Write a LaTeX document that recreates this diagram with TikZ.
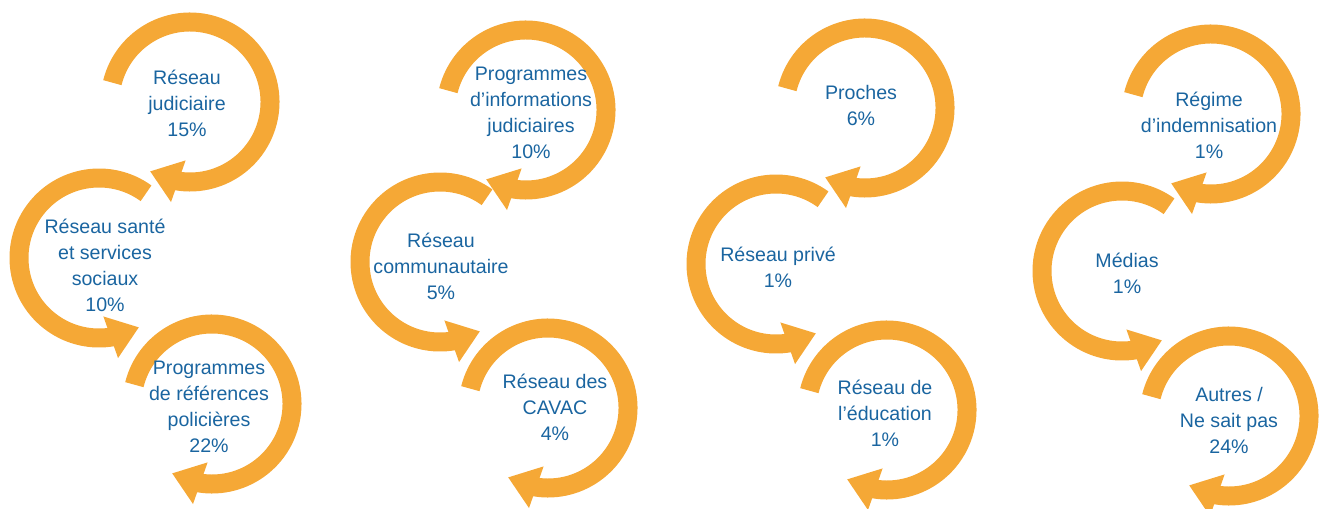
\documentclass[tikz,border=0pt]{standalone}
\usepackage{fontspec}
\setmainfont{Liberation Sans}
\usetikzlibrary{arrows.meta,bending}

\definecolor{ringorange}{RGB}{245,168,54}
\definecolor{textblue}{RGB}{26,101,160}

\tikzset{every picture/.style={line width=0.75pt}}
\tikzset{
  ring/.style={draw=ringorange, line width=14.25pt, -{Triangle[width=31.5pt,length=22.5pt]}},
  ringtext/.style={text=textblue, align=center, inner sep=0.75pt, font=\fontsize{14.7}{19.5}\selectfont}
}

\begin{document}
\begin{tikzpicture}[x=0.75pt,y=0.75pt,yscale=-1,xscale=1]
\useasboundingbox (0,0) rectangle (1319,508);

% ring centres
\coordinate (rjudic) at (190,102);
\coordinate (rsante) at (99,258);
\coordinate (rpolice) at (212,404);
\coordinate (rinfo) at (526,110);
\coordinate (rcommu) at (440,262);
\coordinate (rcavac) at (548,408);
\coordinate (rproch) at (865,108);
\coordinate (rprive) at (776,264);
\coordinate (reduc) at (887,410);
\coordinate (rregim) at (1211,114);
\coordinate (rmedia) at (1122,271);
\coordinate (rautre) at (1229,416);

%Shape: Circular Arrow (clockwise)
\draw [ring] ([shift={(-166:80)}]rjudic) arc [start angle=-166, end angle=120, radius=80];
%Shape: Circular Arrow (counter-clockwise)
\draw [ring] ([shift={(-54:80)}]rsante) arc [start angle=-54, end angle=-300, radius=80];
%Shape: Circular Arrow (clockwise)
\draw [ring] ([shift={(-166:80)}]rpolice) arc [start angle=-166, end angle=120, radius=80];

%Shape: Circular Arrow (clockwise)
\draw [ring] ([shift={(-166:80)}]rinfo) arc [start angle=-166, end angle=120, radius=80];
%Shape: Circular Arrow (counter-clockwise)
\draw [ring] ([shift={(-54:80)}]rcommu) arc [start angle=-54, end angle=-300, radius=80];
%Shape: Circular Arrow (clockwise)
\draw [ring] ([shift={(-166:80)}]rcavac) arc [start angle=-166, end angle=120, radius=80];

%Shape: Circular Arrow (clockwise)
\draw [ring] ([shift={(-166:80)}]rproch) arc [start angle=-166, end angle=120, radius=80];
%Shape: Circular Arrow (counter-clockwise)
\draw [ring] ([shift={(-54:80)}]rprive) arc [start angle=-54, end angle=-300, radius=80];
%Shape: Circular Arrow (clockwise)
\draw [ring] ([shift={(-166:80)}]reduc) arc [start angle=-166, end angle=120, radius=80];

%Shape: Circular Arrow (clockwise)
\draw [ring] ([shift={(-166:80)}]rregim) arc [start angle=-166, end angle=120, radius=80];
%Shape: Circular Arrow (counter-clockwise)
\draw [ring] ([shift={(-54:80)}]rmedia) arc [start angle=-54, end angle=-300, radius=80];
%Shape: Circular Arrow (clockwise)
\draw [ring] ([shift={(-166:80)}]rautre) arc [start angle=-166, end angle=120, radius=80];

% Text Node
\node [ringtext] (judic) at (187,103) {Réseau\\judiciaire\\15\%};
% Text Node
\node [ringtext] (sante) at (105,265) {Réseau santé\\et services\\sociaux\\10\%};
% Text Node
\node [ringtext] (police) at (209,407) {Programmes\\de références\\policières\\22\%};
% Text Node
\node [ringtext] (info) at (531,113) {Programmes\\d’informations\\judiciaires\\10\%};
% Text Node
\node [ringtext] (commu) at (441,266) {Réseau\\communautaire\\5\%};
% Text Node
\node [ringtext] (cavac) at (555,407) {Réseau des\\CAVAC\\4\%};
% Text Node
\node [ringtext] (proch) at (861,105) {Proches\\6\%};
% Text Node
\node [ringtext] (prive) at (778,267) {Réseau privé\\1\%};
% Text Node
\node [ringtext] (educ) at (885,413) {Réseau de\\l’éducation\\1\%};
% Text Node
\node [ringtext] (regim) at (1209,125) {Régime\\d’indemnisation\\1\%};
% Text Node
\node [ringtext] (media) at (1127,273) {Médias\\1\%};
% Text Node
\node [ringtext] (autre) at (1229,420) {Autres /\\Ne sait pas\\24\%};

\end{tikzpicture}
\end{document}
